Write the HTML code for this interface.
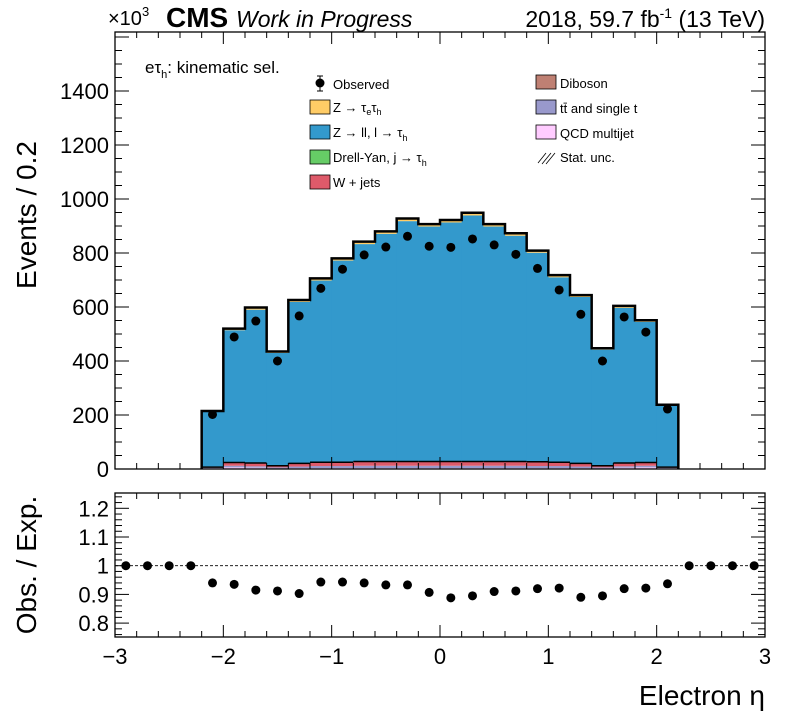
<!DOCTYPE html>
<html><head><meta charset="utf-8">
<style>
html,body{margin:0;padding:0;background:#fff;}
svg{display:block;font-family:"Liberation Sans",sans-serif;}
</style></head>
<body>
<svg id="c" width="796" height="722" viewBox="0 0 796 722"></svg>
<script>
const binCenters=[-2.1,-1.9,-1.7,-1.5,-1.3,-1.1,-0.9,-0.7,-0.5,-0.3,-0.1,0.1,0.3,0.5,0.7,0.9,1.1,1.3,1.5,1.7,1.9,2.1];
const totalExp=[215,520,598,435,626,706,780,842,880,928,907,922,949,907,873,809,718,644,447,604,551,238];
const ztautau=[3,6,8,5,7,8,8,9,9,10,9,9,10,9,9,8,8,7,5,7,6,3];
const wjets=[2,12,12,6,12,14,14,16,16,16,16,16,16,16,16,16,14,12,6,12,12,2];
const ttbar=[2,6,5,4,6,8,8,9,9,9,9,9,9,9,9,8,8,6,4,5,6,2];
const qcd=[3,6,5,2,3,3,3,3,3,3,3,3,3,3,3,3,3,3,2,5,6,3];
const observed=[202,489,548,400,567,669,740,793,822,862,825,821,852,830,795,743,663,573,400,563,507,222];
const ratioX=[-2.9,-2.7,-2.5,-2.3,-2.1,-1.9,-1.7,-1.5,-1.3,-1.1,-0.9,-0.7,-0.5,-0.3,-0.1,0.1,0.3,0.5,0.7,0.9,1.1,1.3,1.5,1.7,1.9,2.1,2.3,2.5,2.7,2.9];
const ratioVals=[1,1,1,1,0.94,0.935,0.915,0.912,0.903,0.943,0.943,0.94,0.933,0.933,0.907,0.888,0.895,0.91,0.912,0.92,0.922,0.89,0.895,0.92,0.922,0.937,1,1,1,1];
const yTicks=[0,200,400,600,800,1000,1200,1400];
const rTicks=[0.8,0.9,1,1.1,1.2];
const xTicks=[-3,-2,-1,0,1,2,3];

const NS="http://www.w3.org/2000/svg";
const svg=document.getElementById('c');
const L=115,R=765,T=32,B=469,RT=493,RB=637;
const X=v=>L+(v+3)*(R-L)/6;
const Y=v=>B-v*0.27;
const RY=v=>565.7-(v-1)*287;
function el(tag,attrs,parent){const e=document.createElementNS(NS,tag);for(const k in attrs)e.setAttribute(k,attrs[k]);(parent||svg).appendChild(e);return e;}
function txt(x,y,s,size,anchor,extra){const t=el('text',Object.assign({x:x,y:y,'font-size':size,'text-anchor':anchor||'start',fill:'#000'},extra||{}));t.innerHTML=s;return t;}

const gm=el('g',{});


binCenters.forEach((c,i)=>{
  const x0=X(c-0.1),x1=X(c+0.1),w=x1-x0+0.8;
  const zll=totalExp[i]-ztautau[i]-wjets[i]-ttbar[i]-qcd[i];
  let base=0;
  const layers=[[qcd[i],'#ffccff','qcd'],[ttbar[i],'#9999cc','ttbar'],[wjets[i],'#de5a6a','wjets'],[zll,'#3399cc','zll'],[ztautau[i],'#ffcc66','ztautau']];
  layers.forEach(([v,col,nm])=>{
    const r=el('rect',{x:x0,y:Y(base+v),width:w,height:Y(base)-Y(base+v),fill:col},gm);
    
    
    base+=v;
  });
  el('line',{x1:x0,x2:x1,y1:Y(qcd[i]+ttbar[i]+wjets[i]),y2:Y(qcd[i]+ttbar[i]+wjets[i]),stroke:'#000','stroke-width':1.5},gm);
});
let d='M'+X(-2.2)+','+B;
binCenters.forEach((c,i)=>{d+=' L'+X(c-0.1)+','+Y(totalExp[i])+' L'+X(c+0.1)+','+Y(totalExp[i]);});
d+=' L'+X(2.2)+','+B;
const outline=el('path',{d:d,fill:'none',stroke:'#000','stroke-width':2.5},gm);


binCenters.forEach((c,i)=>{
  const p=el('circle',{cx:X(c),cy:Y(observed[i]),r:4.5,fill:'#000'},gm);
  
  
});

const fm=el('rect',{x:L,y:T,width:R-L,height:B-T,fill:'none',stroke:'#000','stroke-width':1.3});


const fr=el('rect',{x:L,y:RT,width:R-L,height:RB-RT,fill:'none',stroke:'#000','stroke-width':1.3});



for(let v=-3;v<=3.001;v+=0.2){
  const major=Math.abs(v-Math.round(v))<1e-6;
  const h=major?12:6;
  [[T,1],[B,-1],[RT,1],[RB,-1]].forEach(([y,s])=>el('line',{x1:X(v),x2:X(v),y1:y,y2:y+s*h,stroke:'#000','stroke-width':1}));
}
for(let v=0;v<=1600;v+=50){
  if(Y(v)<T)break;
  const h=v%200===0?14:7;
  el('line',{x1:L,x2:L+h,y1:Y(v),y2:Y(v),stroke:'#000'});
  el('line',{x1:R,x2:R-h,y1:Y(v),y2:Y(v),stroke:'#000'});
}
yTicks.forEach(v=>{const t=txt(L-6,Y(v)+8,String(v),22,'end');});
for(let k=0;k<=26;k++){
  const v=0.76+k*0.02;
  if(RY(v)<RT||RY(v)>RB)continue;
  const major=Math.abs(v*10-Math.round(v*10))<1e-6;
  const h=major?14:7;
  el('line',{x1:L,x2:L+h,y1:RY(v),y2:RY(v),stroke:'#000'});
  el('line',{x1:R,x2:R-h,y1:RY(v),y2:RY(v),stroke:'#000'});
}
rTicks.forEach(v=>{const t=txt(L-6,RY(v)+8,String(v),22,'end');});
xTicks.forEach(v=>{const t=txt(X(v),664,(v<0?'\u2212'+(-v):String(v)),22,'middle');});

const rl=el('line',{x1:L,x2:R,y1:RY(1),y2:RY(1),stroke:'#000','stroke-dasharray':'3,2','stroke-width':0.8});


ratioX.forEach((c,i)=>{
  const p=el('circle',{cx:X(c),cy:RY(ratioVals[i]),r:4.5,fill:'#000'});
  
  
});
</script>
<svg width="796" height="722" style="position:absolute;left:0;top:0">
<text x="108" y="25" font-size="20" font-family="Liberation Sans">×10<tspan font-size="13" dy="-9">3</tspan></text>
<text x="166" y="27" font-size="28" font-weight="bold" font-family="Liberation Sans">CMS</text>
<text x="236" y="27" font-size="23" font-style="italic" font-family="Liberation Sans">Work in Progress</text>
<text x="765" y="27" font-size="23" text-anchor="end" font-family="Liberation Sans">2018, 59.7 fb<tspan font-size="14" dy="-9">-1</tspan><tspan dy="9"> (13 TeV)</tspan></text>
<text transform="translate(36,215) rotate(-90)" font-size="28" text-anchor="middle" font-family="Liberation Sans">Events / 0.2</text>
<text transform="translate(36,565) rotate(-90)" font-size="28" text-anchor="middle" font-family="Liberation Sans">Obs. / Exp.</text>
<text x="765" y="705" font-size="28" text-anchor="end" font-family="Liberation Sans">Electron η</text>
<text x="145" y="73" font-size="17" font-family="Liberation Sans">eτ<tspan font-size="11" dy="5">h</tspan><tspan dy="-5">: kinematic sel.</tspan></text>
<g font-size="13" font-family="Liberation Sans">
<g><line x1="320" x2="320" y1="76" y2="91" stroke="#000"/><line x1="317" x2="323" y1="76" y2="76" stroke="#000"/><line x1="317" x2="323" y1="91" y2="91" stroke="#000"/><circle cx="320" cy="83" r="4.5"/><text x="333" y="89">Observed</text></g>
<g><rect x="310" y="100" width="20" height="14" fill="#ffcc66" stroke="#000" stroke-width="0.8"/><text x="333" y="112">Z → τ<tspan font-size="9" dy="3">e</tspan><tspan dy="-3">τ</tspan><tspan font-size="9" dy="3">h</tspan></text></g>
<g><rect x="310" y="125" width="20" height="14" fill="#3399cc" stroke="#000" stroke-width="0.8"/><text x="333" y="137">Z → ll, l → τ<tspan font-size="9" dy="4">h</tspan></text></g>
<g><rect x="310" y="150" width="20" height="14" fill="#66cc66" stroke="#000" stroke-width="0.8"/><text x="333" y="162">Drell-Yan, j → τ<tspan font-size="9" dy="4">h</tspan></text></g>
<g><rect x="310" y="175" width="20" height="14" fill="#de5a6a" stroke="#000" stroke-width="0.8"/><text x="333" y="187">W + jets</text></g>
<g><rect x="536" y="75" width="20" height="14" fill="#bf8073" stroke="#000" stroke-width="0.8"/><text x="560" y="88">Diboson</text></g>
<g><rect x="536" y="100" width="20" height="14" fill="#9999cc" stroke="#000" stroke-width="0.8"/><text x="560" y="113">tt̄ and single t</text></g>
<g><rect x="536" y="125" width="20" height="14" fill="#ffccff" stroke="#000" stroke-width="0.8"/><text x="560" y="138">QCD multijet</text></g>
<g><path d="M538,163 l8,-10 M542,164 l9,-11 M546,164 l9,-11" stroke="#000" stroke-width="0.8"/><text x="560" y="162">Stat. unc.</text></g>
</g>
</svg>
</body></html>
